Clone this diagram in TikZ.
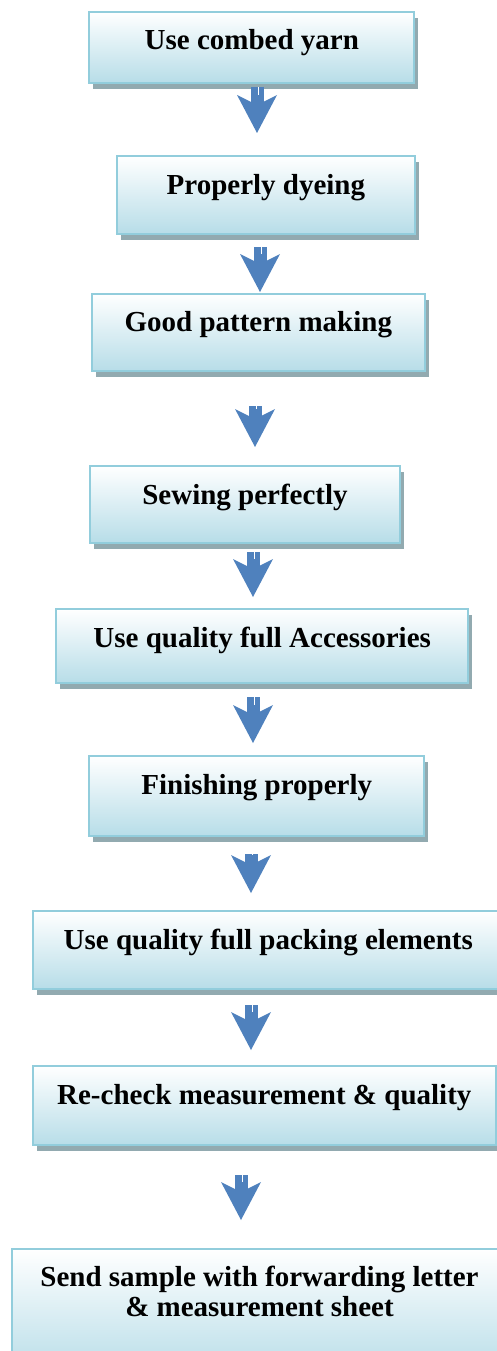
\documentclass[tikz,border=0pt]{standalone}
\usepackage{fontspec}
\setmainfont{Liberation Serif}
\usepackage{tikz}
\usetikzlibrary{arrows.meta, shadows, calc, positioning}
\definecolor{boxline}{RGB}{146,205,220}
\definecolor{boxfill}{RGB}{183,221,232}
\definecolor{boxshadow}{RGB}{146,170,176}
\definecolor{arrowblue}{RGB}{79,129,189}
\tikzstyle{line} = [draw=arrowblue, line width=13pt,
  -{Stealth[length=38pt,width=40pt,inset=10pt,line width=0pt]},
  postaction={draw=white, line width=1.8pt, -, shorten >=38pt,
    transform canvas={xshift=1.5pt}}]
\tikzstyle{block} = [rectangle, draw=boxline, line width=2pt,
  top color=white, bottom color=boxfill,%white to light blue
  drop shadow={shadow xshift=4pt, shadow yshift=-6pt, fill=boxshadow, opacity=1},
  font=\fontsize{29}{30}\selectfont\bfseries, align=center,
  inner ysep=0pt, text height=38pt, anchor=north]

\begin{document}
\begin{tikzpicture}[x=1pt, y=-1pt]
    \useasboundingbox (0,0) rectangle (497,1351);
    \clip (0,0) rectangle (497,1351);

    \node [block, minimum width=325pt, text depth=33pt] (yarn) at (251.8,10.7) {Use combed yarn};
    \node [block, minimum width=298pt, text depth=39.7pt] (dye) at (265.9,155) {Properly dyeing};
    \node [block, minimum width=333pt, text depth=39.3pt] (pattern) at (258.3,292.7) {Good pattern making};
    \node [block, minimum width=310pt, text depth=38.7pt] (sewing) at (245,465) {Sewing perfectly};
    \node [block, minimum width=412pt, text depth=35.4pt] (access) at (262.2,608.3) {Use quality full Accessories};
    \node [block, minimum width=335pt, text depth=42pt] (finish) at (256.7,755) {Finishing properly};
    \node [block, minimum width=471pt, text depth=40.3pt] (packing) at (268.3,910) {Use quality full packing elements};
    \node [block, minimum width=463pt, text depth=41.3pt] (recheck) at (264.3,1065) {Re-check measurement \& quality};
    \node [block, minimum width=496pt, text height=67pt, text depth=60pt] (send) at (259.5,1248)
      {Send sample with forwarding letter\\ \& measurement sheet};

    \foreach \from/\to/\x/\s/\e in {yarn/dye/257/3.3/22, dye/pattern/260/12.3/0.7,
        pattern/sewing/255/34/18, sewing/access/253/8.3/11.3, access/finish/253/13.3/12,
        finish/packing/251/17/17, packing/recheck/251/14.7/15, recheck/send/241/28.7/28}
      \path [line] ($(\from.south -| \x,0)+(0,\s)$) -- ($(\to.north -| \x,0)-(0,\e)$);
\end{tikzpicture}
\end{document}
